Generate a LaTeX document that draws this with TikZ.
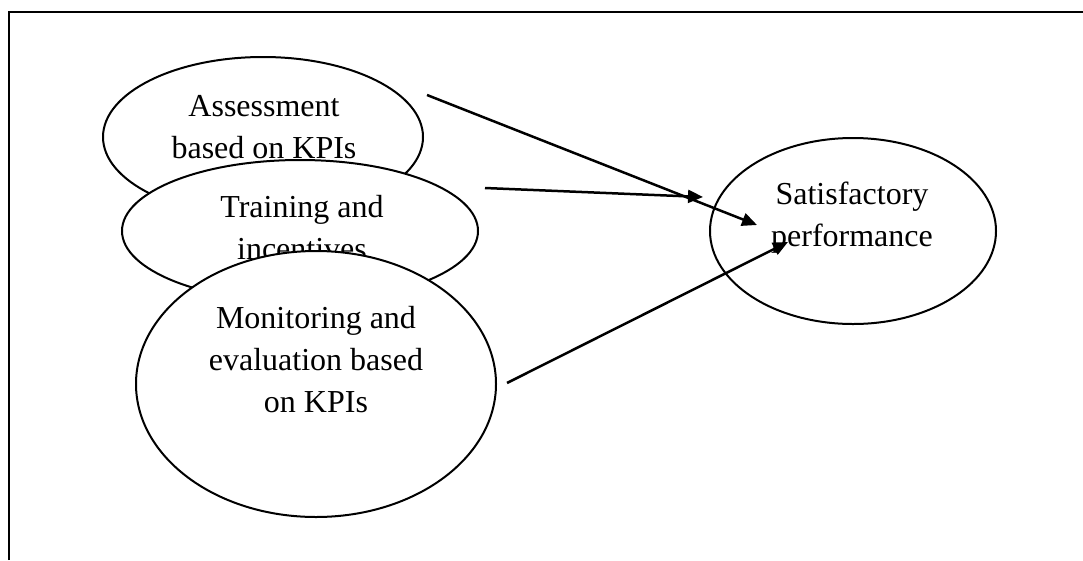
\documentclass[tikz,border=0pt]{standalone}
\usepackage{fontspec}
\setmainfont{Liberation Serif}
\usetikzlibrary{arrows.meta,shapes.geometric}
\tikzset{
  oval/.style={draw, ellipse, fill=white, line width=2pt, inner sep=0pt},
  lbl/.style={anchor=base, align=center, inner sep=0pt, font=\fontsize{32}{42}\selectfont},
  conn/.style={line width=2.5pt, -{Triangle[length=15pt,width=13pt]}},
  frame/.style={line width=2.5pt}
}
\begin{document}
\begin{tikzpicture}[x=1pt,y=-1pt]
\useasboundingbox (0,0) rectangle (1083,560);
\draw[frame] (9,560) -- (9,12) -- (1083,12);
% Assessment
\node[oval, minimum width=320pt, minimum height=160pt] (A) at (263,137) {};
\node[lbl] (At) at (264,158) {Assessment\\based on KPIs};
% Training
\node[oval, minimum width=356pt, minimum height=142pt] (B) at (300,231) {};
\node[lbl] (Bt) at (302,259) {Training and\\incentives};
% Monitoring
\node[oval, minimum width=360pt, minimum height=266pt] (C) at (316,384) {};
\node[lbl] (Ct) at (316,412) {Monitoring and\\evaluation based\\on KPIs};
% Satisfactory
\node[oval, fill=none, minimum width=286pt, minimum height=186pt] (D) at (853,231) {};
\node[lbl] (Dt) at (852,246) {Satisfactory\\performance};
% connectors
\coordinate (s1) at (427,95);
\coordinate (e1) at (757,225);
\coordinate (s2) at (485,188);
\coordinate (e2) at (703,197);
\coordinate (s3) at (507,383);
\coordinate (e3) at (788,242);
\draw[conn] (s1) -- (e1);
\draw[conn] (s2) -- (e2);
\draw[conn] (s3) -- (e3);
\end{tikzpicture}
\end{document}
